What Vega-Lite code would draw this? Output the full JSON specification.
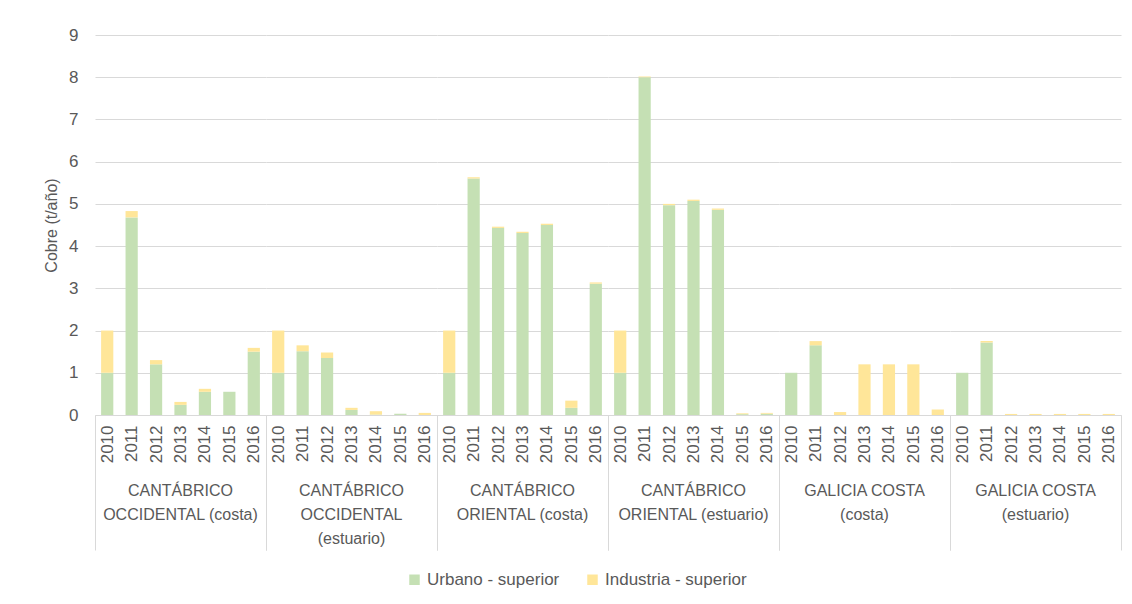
{
  "$schema": "https://vega.github.io/schema/vega-lite/v6.json",
  "background": "white",
  "padding": {"left": 43, "top": 26, "right": 10, "bottom": 5},
  "datasets": {
    "cobre": [
      {"group": "CANTÁBRICO OCCIDENTAL (costa)", "year": "2010", "Urbano - superior": 1.0, "Industria - superior": 1.0},
      {"group": "CANTÁBRICO OCCIDENTAL (costa)", "year": "2011", "Urbano - superior": 4.68, "Industria - superior": 0.15},
      {"group": "CANTÁBRICO OCCIDENTAL (costa)", "year": "2012", "Urbano - superior": 1.2, "Industria - superior": 0.1},
      {"group": "CANTÁBRICO OCCIDENTAL (costa)", "year": "2013", "Urbano - superior": 0.24, "Industria - superior": 0.07},
      {"group": "CANTÁBRICO OCCIDENTAL (costa)", "year": "2014", "Urbano - superior": 0.55, "Industria - superior": 0.07},
      {"group": "CANTÁBRICO OCCIDENTAL (costa)", "year": "2015", "Urbano - superior": 0.55, "Industria - superior": 0.0},
      {"group": "CANTÁBRICO OCCIDENTAL (costa)", "year": "2016", "Urbano - superior": 1.5, "Industria - superior": 0.09},
      {"group": "CANTÁBRICO OCCIDENTAL (estuario)", "year": "2010", "Urbano - superior": 1.0, "Industria - superior": 1.0},
      {"group": "CANTÁBRICO OCCIDENTAL (estuario)", "year": "2011", "Urbano - superior": 1.51, "Industria - superior": 0.14},
      {"group": "CANTÁBRICO OCCIDENTAL (estuario)", "year": "2012", "Urbano - superior": 1.35, "Industria - superior": 0.13},
      {"group": "CANTÁBRICO OCCIDENTAL (estuario)", "year": "2013", "Urbano - superior": 0.12, "Industria - superior": 0.05},
      {"group": "CANTÁBRICO OCCIDENTAL (estuario)", "year": "2014", "Urbano - superior": 0.01, "Industria - superior": 0.08},
      {"group": "CANTÁBRICO OCCIDENTAL (estuario)", "year": "2015", "Urbano - superior": 0.03, "Industria - superior": 0.0},
      {"group": "CANTÁBRICO OCCIDENTAL (estuario)", "year": "2016", "Urbano - superior": 0.0, "Industria - superior": 0.05},
      {"group": "CANTÁBRICO ORIENTAL (costa)", "year": "2010", "Urbano - superior": 1.0, "Industria - superior": 1.0},
      {"group": "CANTÁBRICO ORIENTAL (costa)", "year": "2011", "Urbano - superior": 5.6, "Industria - superior": 0.03},
      {"group": "CANTÁBRICO ORIENTAL (costa)", "year": "2012", "Urbano - superior": 4.43, "Industria - superior": 0.03},
      {"group": "CANTÁBRICO ORIENTAL (costa)", "year": "2013", "Urbano - superior": 4.31, "Industria - superior": 0.03},
      {"group": "CANTÁBRICO ORIENTAL (costa)", "year": "2014", "Urbano - superior": 4.5, "Industria - superior": 0.03},
      {"group": "CANTÁBRICO ORIENTAL (costa)", "year": "2015", "Urbano - superior": 0.17, "Industria - superior": 0.17},
      {"group": "CANTÁBRICO ORIENTAL (costa)", "year": "2016", "Urbano - superior": 3.11, "Industria - superior": 0.03},
      {"group": "CANTÁBRICO ORIENTAL (estuario)", "year": "2010", "Urbano - superior": 1.0, "Industria - superior": 1.0},
      {"group": "CANTÁBRICO ORIENTAL (estuario)", "year": "2011", "Urbano - superior": 8.0, "Industria - superior": 0.02},
      {"group": "CANTÁBRICO ORIENTAL (estuario)", "year": "2012", "Urbano - superior": 4.97, "Industria - superior": 0.03},
      {"group": "CANTÁBRICO ORIENTAL (estuario)", "year": "2013", "Urbano - superior": 5.07, "Industria - superior": 0.03},
      {"group": "CANTÁBRICO ORIENTAL (estuario)", "year": "2014", "Urbano - superior": 4.86, "Industria - superior": 0.03},
      {"group": "CANTÁBRICO ORIENTAL (estuario)", "year": "2015", "Urbano - superior": 0.02, "Industria - superior": 0.02},
      {"group": "CANTÁBRICO ORIENTAL (estuario)", "year": "2016", "Urbano - superior": 0.03, "Industria - superior": 0.02},
      {"group": "GALICIA COSTA (costa)", "year": "2010", "Urbano - superior": 1.0, "Industria - superior": 0.0},
      {"group": "GALICIA COSTA (costa)", "year": "2011", "Urbano - superior": 1.65, "Industria - superior": 0.1},
      {"group": "GALICIA COSTA (costa)", "year": "2012", "Urbano - superior": 0.0, "Industria - superior": 0.07},
      {"group": "GALICIA COSTA (costa)", "year": "2013", "Urbano - superior": 0.0, "Industria - superior": 1.2},
      {"group": "GALICIA COSTA (costa)", "year": "2014", "Urbano - superior": 0.0, "Industria - superior": 1.2},
      {"group": "GALICIA COSTA (costa)", "year": "2015", "Urbano - superior": 0.0, "Industria - superior": 1.2},
      {"group": "GALICIA COSTA (costa)", "year": "2016", "Urbano - superior": 0.0, "Industria - superior": 0.13},
      {"group": "GALICIA COSTA (estuario)", "year": "2010", "Urbano - superior": 1.0, "Industria - superior": 0.0},
      {"group": "GALICIA COSTA (estuario)", "year": "2011", "Urbano - superior": 1.72, "Industria - superior": 0.03},
      {"group": "GALICIA COSTA (estuario)", "year": "2012", "Urbano - superior": 0.0, "Industria - superior": 0.025},
      {"group": "GALICIA COSTA (estuario)", "year": "2013", "Urbano - superior": 0.0, "Industria - superior": 0.025},
      {"group": "GALICIA COSTA (estuario)", "year": "2014", "Urbano - superior": 0.0, "Industria - superior": 0.025},
      {"group": "GALICIA COSTA (estuario)", "year": "2015", "Urbano - superior": 0.0, "Industria - superior": 0.025},
      {"group": "GALICIA COSTA (estuario)", "year": "2016", "Urbano - superior": 0.0, "Industria - superior": 0.025}
    ]
  },
  "data": {"name": "cobre"},
  "transform": [
    {"fold": ["Urbano - superior", "Industria - superior"], "as": ["tipo", "valor"]}
  ],
  "facet": {
    "column": {
      "field": "group",
      "type": "nominal",
      "sort": null,
      "title": null,
      "header": {
        "labelOrient": "bottom",
        "labelBaseline": "top",
        "labelPadding": -68,
        "labelFont": "Liberation Sans",
        "labelFontSize": 16,
        "labelColor": "#595959",
        "labelLineHeight": 24,
        "labelExpr": "datum.value == 'CANTÁBRICO OCCIDENTAL (estuario)' ? ['CANTÁBRICO', 'OCCIDENTAL', '(estuario)'] : split(replace(replace(datum.value, regexp('^(CANTÁBRICO|GALICIA COSTA) '), '$1|'), ' (costa)', '  (costa)'), '|')"
      }
    }
  },
  "spacing": 0,
  "spec": {
    "width": 171,
    "height": 380,
    "mark": {"type": "bar", "width": {"band": 0.5}},
    "encoding": {
      "x": {
        "field": "year",
        "type": "ordinal",
        "title": null,
        "scale": {"paddingInner": 0, "paddingOuter": 0},
        "axis": {
          "labelAngle": -90,
          "labelAlign": "right",
          "labelBaseline": "middle",
          "labelPadding": -125,
          "labelFont": "Liberation Sans",
          "labelFontSize": 17,
          "labelColor": "#595959",
          "domainColor": "#D9D9D9",
          "tickBand": "extent",
          "tickSize": 135,
          "tickColor": "#D9D9D9",
          "tickOpacity": {"condition": {"test": "datum.value == '2016' || datum.extra", "value": 1}, "value": 0}
        }
      },
      "y": {
        "field": "valor",
        "type": "quantitative",
        "title": "Cobre (t/año)",
        "stack": "zero",
        "scale": {"domain": [0, 9]},
        "axis": {
          "values": [0, 1, 2, 3, 4, 5, 6, 7, 8, 9],
          "domain": false,
          "ticks": false,
          "labelPadding": 17,
          "labelFont": "Liberation Sans",
          "labelFontSize": 17,
          "labelColor": "#595959",
          "titleFont": "Liberation Sans",
          "titleFontSize": 16,
          "titleFontWeight": "normal",
          "titleColor": "#595959",
          "titlePadding": 9,
          "gridColor": "#D9D9D9"
        }
      },
      "color": {
        "field": "tipo",
        "type": "nominal",
        "scale": {"domain": ["Urbano - superior", "Industria - superior"], "range": ["#C5E0B4", "#FFE699"]},
        "legend": {
          "title": null,
          "orient": "none",
          "direction": "horizontal",
          "legendX": 311,
          "legendY": 536,
          "symbolType": "square",
          "symbolSize": 110,
          "symbolStrokeWidth": 0,
          "labelFont": "Liberation Sans",
          "labelFontSize": 17,
          "labelColor": "#595959",
          "columnPadding": 24
        }
      },
      "order": {"field": "tipo", "sort": "descending"}
    }
  },
  "config": {
    "view": {"stroke": null}
  }
}
